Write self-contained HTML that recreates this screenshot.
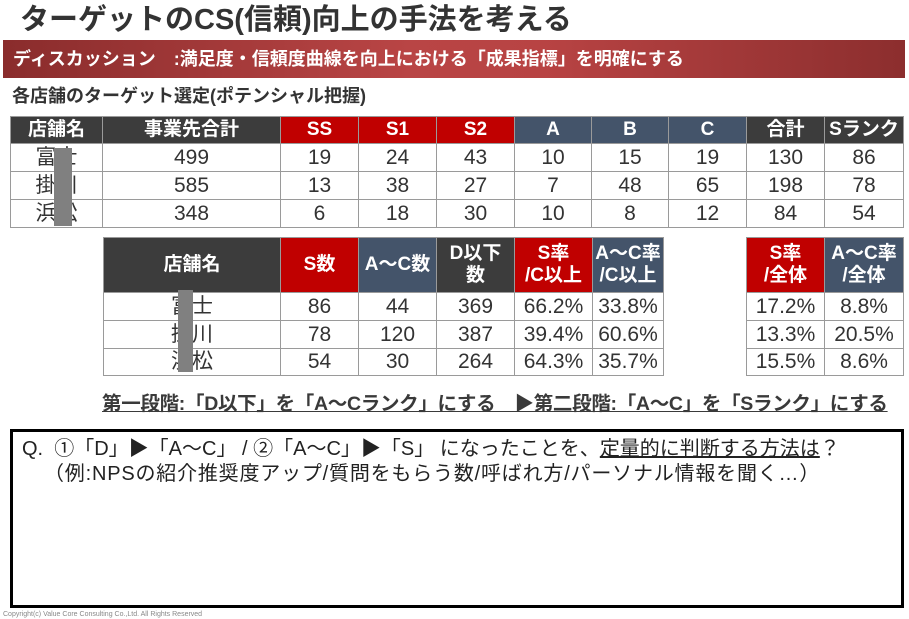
<!DOCTYPE html>
<html><head><meta charset="utf-8"><style>
*{margin:0;padding:0;box-sizing:border-box}
body{width:909px;height:619px;background:#fff;position:relative;overflow:hidden;font-family:"Liberation Sans","Noto Sans CJK JP",sans-serif;color:#333}
.a{position:absolute}
.title{left:20px;top:3px;font-size:29px;line-height:34px;font-weight:bold;color:#333;white-space:nowrap}
.band{left:3px;top:40px;width:902px;height:38px;background:linear-gradient(90deg,#8a2c2c,#b94545 45%,#b84343 60%,#8c2e2e);color:#fff;font-weight:bold;font-size:18px;line-height:38px;padding-left:10px;white-space:nowrap}
.sub{left:12px;top:85px;font-size:18px;line-height:22px;font-weight:bold;color:#333;white-space:nowrap}
table{position:absolute;border-collapse:collapse;table-layout:fixed}
td{border:1px solid #9a9a9a;text-align:center;font-size:21px;line-height:20px;color:#333;padding:0;overflow:hidden;white-space:nowrap}
th{color:#fff;font-size:19px;font-weight:bold;text-align:center;border:1px solid #9a9a9a;padding:0;line-height:22px;white-space:nowrap;overflow:hidden}
.d{background:#3c3c3c}.r{background:#c00000}.b{background:#44546a}
.blob{background:#808080}
.line{left:102px;top:392px;font-size:19.5px;line-height:24px;font-weight:bold;color:#3a3a3a;text-decoration:underline;white-space:nowrap;letter-spacing:-0.3px}
.box{left:10px;top:429px;width:894px;height:179px;border:3px solid #000}
.q{font-size:20px;line-height:24px;color:#222;white-space:nowrap}
</style></head><body>
<div class="a title">ターゲットのCS(信頼)向上の手法を考える</div>
<div class="a band">ディスカッション　:満足度・信頼度曲線を向上における「成果指標」を明確にする</div>
<div class="a sub">各店舗のターゲット選定(ポテンシャル把握)</div>

<table style="left:10px;top:116px;width:893px">
<colgroup><col style="width:92px"><col style="width:178px"><col style="width:78px"><col style="width:78px"><col style="width:78px"><col style="width:77px"><col style="width:77px"><col style="width:78px"><col style="width:78px"><col style="width:79px"></colgroup>
<tr><th class="d" style="height:27px">店舗名</th><th class="d">事業先合計</th><th class="r">SS</th><th class="r">S1</th><th class="r">S2</th><th class="b">A</th><th class="b">B</th><th class="b">C</th><th class="d">合計</th><th class="d">Sランク</th></tr>
<tr><td style="height:28px">富士</td><td>499</td><td>19</td><td>24</td><td>43</td><td>10</td><td>15</td><td>19</td><td>130</td><td>86</td></tr>
<tr><td style="height:28px">掛川</td><td>585</td><td>13</td><td>38</td><td>27</td><td>7</td><td>48</td><td>65</td><td>198</td><td>78</td></tr>
<tr><td style="height:28px">浜松</td><td>348</td><td>6</td><td>18</td><td>30</td><td>10</td><td>8</td><td>12</td><td>84</td><td>54</td></tr>
</table>
<div class="a blob" style="left:54px;top:148px;width:18px;height:78px"></div>

<table style="left:103px;top:237px;width:560px">
<colgroup><col style="width:177px"><col style="width:78px"><col style="width:78px"><col style="width:78px"><col style="width:78px"><col style="width:71px"></colgroup>
<tr><th class="d" style="height:55px">店舗名</th><th class="r">S数</th><th class="b">A～C数</th><th class="d">D以下<br>数</th><th class="r">S率<br>/C以上</th><th class="b">A～C率<br>/C以上</th></tr>
<tr><td style="height:28px">富士</td><td>86</td><td>44</td><td>369</td><td>66.2%</td><td>33.8%</td></tr>
<tr><td style="height:28px">掛川</td><td>78</td><td>120</td><td>387</td><td>39.4%</td><td>60.6%</td></tr>
<tr><td style="height:27px">浜松</td><td>54</td><td>30</td><td>264</td><td>64.3%</td><td>35.7%</td></tr>
</table>
<div class="a blob" style="left:178px;top:290px;width:15px;height:82px"></div>

<table style="left:746px;top:237px;width:157px">
<colgroup><col style="width:78px"><col style="width:79px"></colgroup>
<tr><th class="r" style="height:55px">S率<br>/全体</th><th class="b">A～C率<br>/全体</th></tr>
<tr><td style="height:28px">17.2%</td><td>8.8%</td></tr>
<tr><td style="height:28px">13.3%</td><td>20.5%</td></tr>
<tr><td style="height:27px">15.5%</td><td>8.6%</td></tr>
</table>

<div class="a line">第一段階:「D以下」を「A～Cランク」にする　▶第二段階:「A～C」を「Sランク」にする</div>

<div class="a box"></div>
<div class="a q" style="left:22px;top:437px">Q.&nbsp; ①「D」▶「A～C」 / ②「A～C」▶「S」 になったことを、<u>定量的に判断する方法は</u>？</div>
<div class="a q" style="left:44px;top:462px;letter-spacing:0.8px">（例:NPSの紹介推奨度アップ/質問をもらう数/呼ばれ方/パーソナル情報を聞く…）</div>
<div class="a" style="left:3px;top:611px;font-size:7px;color:#888">Copyright(c) Value Core Consulting Co.,Ltd. All Rights Reserved</div>
</body></html>
